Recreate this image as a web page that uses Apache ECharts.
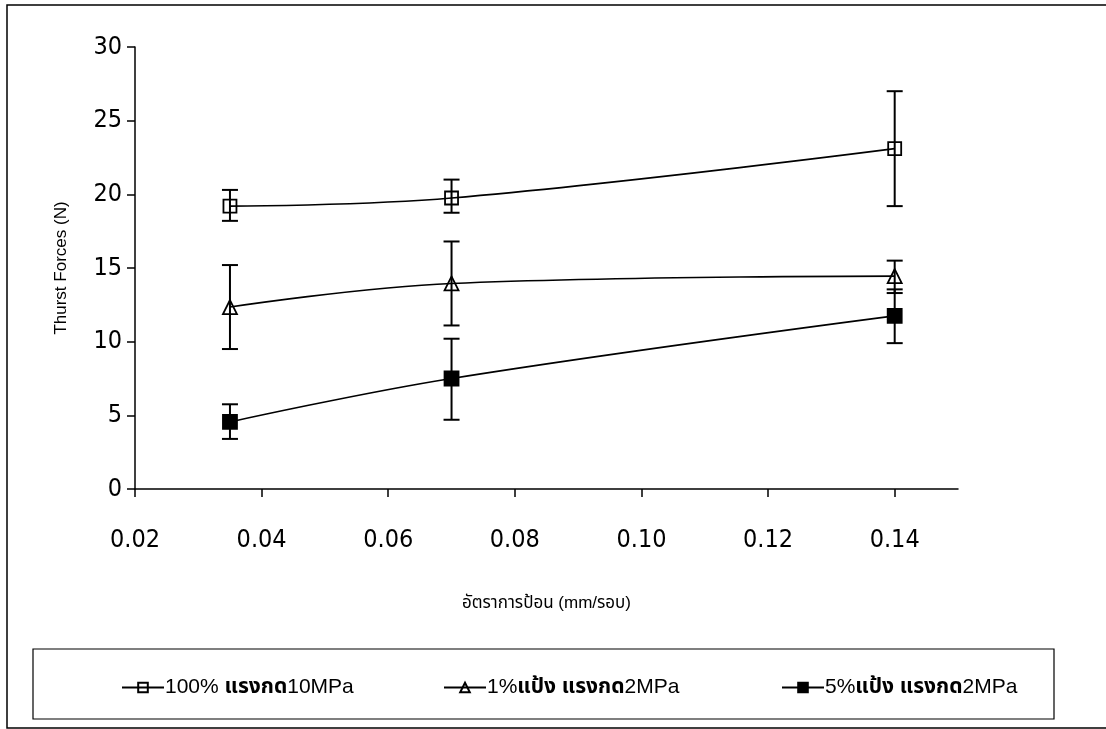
<!DOCTYPE html>
<html>
<head>
<meta charset="utf-8">
<script src="https://cdn.jsdelivr.net/npm/echarts@6/dist/echarts.min.js"></script>
<style>
html,body{margin:0;padding:0;background:#fff;}
#chart{width:1106px;height:729px;}
</style>
</head>
<body>
<div id="chart"></div>
<script>
// feed rate (mm/rev)
var feedRates = [0.035, 0.07, 0.14];
var xTicks = [0.02, 0.04, 0.06, 0.08, 0.10, 0.12, 0.14];

var seriesNames = ['100% แรงกด10MPa', '1%แป้ง แรงกด2MPa', '5%แป้ง แรงกด2MPa'];

// thrust force means (N)
var force100 = [19.2, 19.75, 23.1];
var force1 = [12.35, 13.95, 14.45];
var force5 = [4.55, 7.5, 11.75];

// error bar ends
var low100 = [18.2, 18.75, 19.2];
var high100 = [20.3, 21.0, 27.0];
var low1 = [9.5, 11.1, 13.3];
var high1 = [15.2, 16.8, 15.5];
var low5 = [3.4, 4.7, 9.9];
var high5 = [5.75, 10.2, 13.55];

var tickFont = 'Liberation Sans Narrow, DejaVu Sans Condensed, Arial Narrow, sans-serif';
var thaiFont = 'Liberation Sans, Noto Sans Thai, Noto Sans, sans-serif';

function pairs(ys) {
	return feedRates.map(function (x, i) { return [x, ys[i]]; });
}
function bars(lo, hi) {
	return feedRates.map(function (x, i) { return [x, lo[i], hi[i]]; });
}

var renderErr = function (params, api) {
	var x = api.value(0);
	var p1 = api.coord([x, api.value(1)]);
	var p2 = api.coord([x, api.value(2)]);
	var w = 8;
	var st = { stroke: '#000', lineWidth: 2 };
	return {
		type: 'group',
		children: [
			{ type: 'line', shape: { x1: p1[0], y1: p1[1], x2: p2[0], y2: p2[1] }, style: st },
			{ type: 'line', shape: { x1: p1[0] - w, y1: p1[1], x2: p1[0] + w, y2: p1[1] }, style: st },
			{ type: 'line', shape: { x1: p2[0] - w, y1: p2[1], x2: p2[0] + w, y2: p2[1] }, style: st }
		]
	};
};

var lineSeries = function (name, ys, symbol, size, fill) {
	return {
		name: name,
		type: 'line',
		data: pairs(ys),
		smooth: 0.4,
		symbol: symbol,
		symbolSize: size,
		showAllSymbol: true,
		lineStyle: { color: '#000', width: 1.6 },
		itemStyle: { color: fill, borderColor: '#000', borderWidth: 1.8 },
		emphasis: { disabled: true },
		z: 3
	};
};

var errSeries = function (lo, hi) {
	return {
		type: 'custom',
		renderItem: renderErr,
		data: bars(lo, hi),
		encode: { x: 0, y: [1, 2] },
		silent: true,
		clip: false,
		z: 4
	};
};

// thai runs a little heavier, as in the original legend
var legendText = function (name) {
	return name.replace(/([\u0E00-\u0E7F]+)/g, '{t|$1}');
};

var legendBase = function (name, left) {
	return {
		data: [name],
		left: left,
		top: 672,
		itemWidth: 42,
		itemHeight: 12,
		selectedMode: false,
		formatter: legendText,
		textStyle: {
			fontFamily: thaiFont, fontSize: 21, color: '#000', padding: [0, 0, 0, -4],
			rich: { t: { fontFamily: thaiFont, fontSize: 21, fontWeight: 'bold', color: '#000' } }
		}
	};
};

var chart = echarts.init(document.getElementById('chart'));

var option = {
	backgroundColor: '#fff',
	animation: false,
	grid: { left: 135, right: 148, top: 47, bottom: 240 },
	legend: [
		legendBase(seriesNames[0], 116),
		legendBase(seriesNames[1], 438),
		legendBase(seriesNames[2], 776)
	],
	xAxis: {
		type: 'value',
		min: 0.02,
		max: 0.15,
		interval: 0.02,
		name: 'อัตราการป้อน (mm/รอบ)',
		nameLocation: 'middle',
		nameGap: 106,
		nameTextStyle: { fontFamily: thaiFont, fontSize: 17, color: '#000' },
		axisLine: { lineStyle: { color: '#000', width: 1.5 } },
		axisTick: { length: 8, lineStyle: { color: '#000', width: 1.5 }, customValues: xTicks },
		axisLabel: {
			customValues: xTicks,
			margin: 39,
			fontFamily: tickFont,
			fontSize: 25,
			color: '#000',
			formatter: function (v) { return v.toFixed(2); }
		},
		splitLine: { show: false }
	},
	yAxis: {
		type: 'value',
		min: 0,
		max: 30,
		interval: 5,
		name: 'Thurst Forces (N)',
		nameLocation: 'middle',
		nameGap: 65,
		nameTextStyle: { fontFamily: 'Liberation Sans, Arial, sans-serif', fontSize: 17, color: '#000' },
		axisLine: { show: true, lineStyle: { color: '#000', width: 1.5 } },
		axisTick: { show: true, length: 8, lineStyle: { color: '#000', width: 1.5 } },
		axisLabel: { margin: 13, fontFamily: tickFont, fontSize: 25, color: '#000' },
		splitLine: { show: false }
	},
	graphic: [
		// outer frame (right edge runs off the page)
		{ type: 'polyline', shape: { points: [[1106, 5], [7, 5], [7, 728], [1106, 728]] },
		  style: { stroke: '#000', lineWidth: 1.5, fill: null }, z: 10 },
		// cover for clipped legend text
		{ type: 'rect', shape: { x: 1055, y: 650, width: 51, height: 68 },
		  style: { fill: '#fff' }, z: 20 },
		// legend box
		{ type: 'rect', shape: { x: 33, y: 649, width: 1021, height: 70 },
		  style: { stroke: '#000', lineWidth: 1.2, fill: null }, z: 21 }
	],
	series: [
		lineSeries(seriesNames[0], force100, 'rect', 13, 'rgba(255,255,255,0)'),
		lineSeries(seriesNames[1], force1, 'triangle', 14, 'rgba(255,255,255,0)'),
		lineSeries(seriesNames[2], force5, 'rect', 14, '#000'),
		errSeries(low100, high100),
		errSeries(low1, high1),
		errSeries(low5, high5)
	]
};

chart.setOption(option);
window.addEventListener('resize', function () {
	chart.resize();
});
</script>
</body>
</html>
